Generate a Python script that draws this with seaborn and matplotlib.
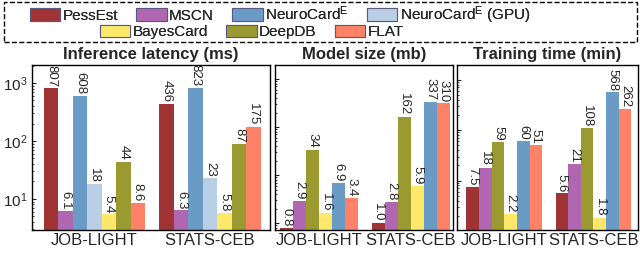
import pandas as pd
import seaborn as sns
from matplotlib import pyplot as plt
from matplotlib.patches import Patch, Rectangle

datasets = ["JOB-LIGHT", "STATS-CEB"]

latency_methods = ["PessEst", "MSCN", "NeuroCard", "NeuroCard (GPU)", "BayesCard", "DeepDB", "FLAT"]
latency_job = [807, 6.1, 608, 18, 5.4, 44, 8.6]
latency_stats = [436, 6.3, 823, 23, 5.8, 87, 175]

other_methods = ["PessEst", "MSCN", "DeepDB", "BayesCard", "NeuroCard", "FLAT"]
size_job = [0.8, 2.9, 34, 1.6, 6.9, 3.4]
size_stats = [1.0, 2.8, 162, 5.9, 337, 310]
train_job = [7.5, 18, 59, 2.2, 60, 51]
train_stats = [5.6, 21, 108, 1.8, 568, 262]

colors = {
    "PessEst": "#a03434",
    "MSCN": "#b066b0",
    "NeuroCard": "#6a9bc5",
    "NeuroCard (GPU)": "#b9cfe5",
    "BayesCard": "#fde86c",
    "DeepDB": "#9a9a30",
    "FLAT": "#fd8268",
}
legend_labels = {
    "PessEst": "PessEst",
    "MSCN": "MSCN",
    "NeuroCard": "NeuroCard$^\\mathrm{E}$",
    "NeuroCard (GPU)": "NeuroCard$^\\mathrm{E}$ (GPU)",
    "BayesCard": "BayesCard",
    "DeepDB": "DeepDB",
    "FLAT": "FLAT",
}

sns.set_style("ticks")
plt.rcParams["font.family"] = ["Liberation Sans", "DejaVu Sans"]
plt.rcParams["mathtext.fontset"] = "custom"
plt.rcParams["mathtext.rm"] = "Liberation Sans"
plt.rcParams["mathtext.it"] = "Liberation Sans:italic"


def make_frame(methods, job, stats):
    rows = []
    for m, a, b in zip(methods, job, stats):
        rows.append({"dataset": datasets[0], "method": m, "value": a})
        rows.append({"dataset": datasets[1], "method": m, "value": b})
    return pd.DataFrame(rows)


def fmt(v):
    return f"{v:.0f}" if v >= 10 else f"{v:.1f}"


def draw_panel(ax, methods, job, stats, title, width, ylim, xlim, show_y):
    df = make_frame(methods, job, stats)
    sns.barplot(data=df, x="dataset", y="value", hue="method", hue_order=methods,
                palette=colors, width=width, saturation=1, linewidth=0,
                legend=False, ax=ax)
    ax.set_yscale("log")
    for cont, m in zip(ax.containers, methods):
        vals = [job[methods.index(m)], stats[methods.index(m)]]
        ax.bar_label(cont, labels=[fmt(v) for v in vals], rotation=-90,
                     padding=1, fontsize=9.5)
    ax.set_ylim(*ylim)
    ax.set_xlim(*xlim)
    ax.set_title(title, fontsize=12, fontweight="bold", pad=4)
    ax.set_xlabel("")
    ax.set_ylabel("")
    ax.tick_params(axis="x", labelsize=12, length=0, pad=2)
    ax.tick_params(axis="y", which="major", labelsize=11, length=3,
                   direction="in", labelleft=show_y)
    ax.tick_params(axis="y", which="minor", length=1.5, direction="in")
    for s in ax.spines.values():
        s.set_color("black")
        s.set_linewidth(1.0)


fig = plt.figure(figsize=(6.4, 2.54), dpi=100)
ax1 = fig.add_axes([32 / 640, 24 / 254, 238 / 640, 165 / 254])
ax2 = fig.add_axes([275 / 640, 24 / 254, 178 / 640, 165 / 254])
ax3 = fig.add_axes([457 / 640, 24 / 254, 181 / 640, 165 / 254])

draw_panel(ax1, latency_methods, latency_job, latency_stats, "Inference latency (ms)",
           0.878, (2.9, 2050), (-0.54, 1.52), True)
draw_panel(ax2, other_methods, size_job, size_stats, "Model size (mb)",
           0.85, (0.72, 1950), (-0.48, 1.46), False)
draw_panel(ax3, other_methods, train_job, train_stats, "Training time (min)",
           0.85, (1.05, 1950), (-0.53, 1.5), False)

row1 = ["PessEst", "MSCN", "NeuroCard", "NeuroCard (GPU)"]
row2 = ["BayesCard", "DeepDB", "FLAT"]
for row, x, y in [(row1, 22, 15), (row2, 92, 32)]:
    handles = [Patch(facecolor=colors[m], edgecolor="#5a5a80", linewidth=0.8) for m in row]
    leg = fig.legend(handles, [legend_labels[m] for m in row], ncol=len(row),
                     loc="center left", bbox_to_anchor=(x / 640, 1 - y / 254),
                     frameon=False, fontsize=11, borderpad=0, handlelength=2.0,
                     handleheight=0.85, handletextpad=0.15, columnspacing=1.2)
    fig.add_artist(leg)

fig.add_artist(Rectangle((4 / 640, 1 - 42 / 254), 633 / 640, 40 / 254,
                         transform=fig.transFigure, fill=False,
                         linestyle="--", linewidth=1.0, edgecolor="black"))

fig.savefig("out.png", dpi=100)
